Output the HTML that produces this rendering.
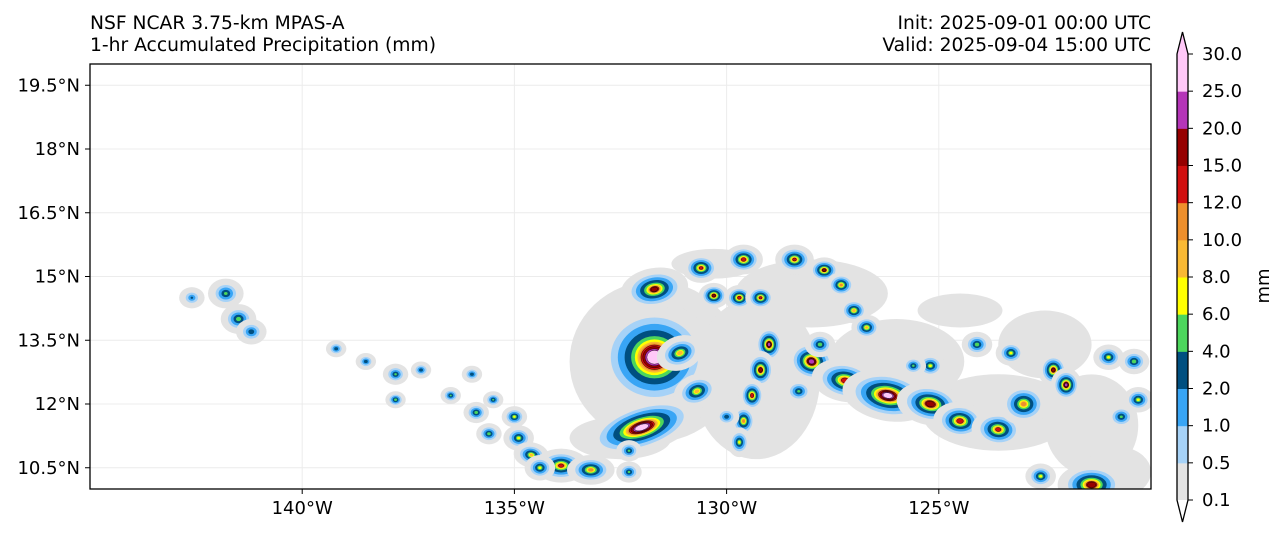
<!DOCTYPE html>
<html><head><meta charset="utf-8"><style>
html,body{margin:0;padding:0;background:#fff;}
body{width:1286px;height:537px;overflow:hidden;font-family:"Liberation Sans","DejaVu Sans",sans-serif;}
svg text{font-family:"DejaVu Sans","Liberation Sans",sans-serif;}
</style></head><body>
<svg id="chart" width="1286" height="537" xmlns="http://www.w3.org/2000/svg">
<text x="90" y="29" font-size="18.7" fill="#000">NSF NCAR 3.75-km MPAS-A</text>
<text x="90" y="51" font-size="18.7" fill="#000">1-hr Accumulated Precipitation (mm)</text>
<text x="1151" y="29" font-size="18.7" text-anchor="end" fill="#000">Init: 2025-09-01 00:00 UTC</text>
<text x="1151" y="51" font-size="18.7" text-anchor="end" fill="#000">Valid: 2025-09-04 15:00 UTC</text>
<defs><clipPath id="mapclip"><rect x="90" y="64" width="1061" height="425"/></clipPath></defs>
<g id="grid"></g>
<g id="precip" clip-path="url(#mapclip)"></g>
<rect x="90" y="64" width="1061" height="425" fill="none" stroke="#000" stroke-width="1.3"/>
<g id="axes"></g>
<g id="cbar"></g>
<text transform="translate(1269,286) rotate(-90)" font-size="18" text-anchor="middle">mm</text>
</svg>
<script>
const levels=[0.1,0.5,1,2,4,6,8,10,12,15,20,25,30];
const levelLabels=["0.1","0.5","1.0","2.0","4.0","6.0","8.0","10.0","12.0","15.0","20.0","25.0","30.0"];
const levelColors=["#e3e3e3","#a6d2f7","#38a5f5","#004f80","#4cd65c","#ffff00","#f9b934","#ee8f2c","#d00f0f","#960000","#b535b8","#ffc8f8"];
const latTicks=[10.5,12,13.5,15,16.5,18,19.5];
const lonTicks=[-140,-135,-130,-125];
// gray rain shield areas: lon, lat, half-width deg, half-height deg
const shieldLon=[-131.7,-129.3,-128.0,-126.0,-123.6,-121.4,-122.5,-124.5,-132.5,-130.3,-120.8];
const shieldLat=[13.0,12.6,14.6,13.0,11.8,11.5,13.4,14.2,11.2,15.3,10.4];
const shieldRx=[2.0,1.5,1.8,1.6,1.8,1.1,1.1,1.0,1.2,1.0,0.8];
const shieldRy=[1.9,1.9,0.8,1.0,0.9,1.2,0.8,0.4,0.5,0.35,0.6];
// convective cells: lon, lat, peak mm, extent deg, elongation, tilt deg
const cellLon=[-131.7,-132.0,-131.7,-130.6,-129.6,-128.4,-127.7,-127.3,-127.0,-126.7,-130.3,-129.7,-129.2,-131.1,-130.7,-129.0,-129.2,-129.4,-129.6,-129.7,-128.0,-127.2,-126.2,-125.2,-124.5,-123.6,-123.0,-122.3,-122.0,-121.4,-124.1,-123.3,-125.2,-121.0,-120.4,-120.3,-120.7,-141.8,-141.5,-141.2,-139.2,-138.5,-137.8,-137.2,-137.8,-136.5,-135.9,-135.5,-135.0,-135.6,-134.9,-134.6,-133.9,-133.2,-134.4,-132.3,-132.3,-130.0,-128.3,-122.6,-125.6,-127.8,-142.6,-136.0];
const cellLat=[13.1,11.45,14.7,15.2,15.4,15.4,15.15,14.8,14.2,13.8,14.55,14.5,14.5,13.2,12.3,13.4,12.8,12.2,11.6,11.1,13.0,12.55,12.2,12.0,11.6,11.4,12.0,12.8,12.45,10.1,13.4,13.2,12.9,13.1,13.0,12.1,11.7,14.6,14.0,13.7,13.3,13.0,12.7,12.8,12.1,12.2,11.8,12.1,11.7,11.3,11.2,10.8,10.55,10.45,10.5,10.4,10.9,11.7,12.3,10.3,12.9,13.4,14.5,12.7];
const cellPeak=[30,28,15,12,14,12,15,10,9,8,15,14,12,9,8,20,16,14,10,6,22,14,26,18,14,12,10,16,20,18,5,6,6,6,5,6,4,4,5,3,3,3,4,3,5,4,5,4,6,5,6,8,12,10,6,4,4,3,4,6,4,5,2,3];
const cellSize=[1.3,0.6,0.5,0.35,0.35,0.35,0.3,0.3,0.3,0.3,0.3,0.3,0.3,0.4,0.4,0.45,0.45,0.4,0.4,0.35,0.5,0.5,0.6,0.5,0.45,0.45,0.5,0.4,0.4,0.5,0.3,0.3,0.3,0.3,0.3,0.3,0.3,0.35,0.35,0.3,0.2,0.2,0.25,0.2,0.2,0.2,0.25,0.2,0.25,0.25,0.3,0.3,0.4,0.35,0.3,0.25,0.25,0.25,0.3,0.3,0.25,0.3,0.25,0.2];
const cellStretch=[1.1,2.4,1.6,1.3,1.3,1.3,1.3,1.2,1.2,1.2,1.2,1.2,1.2,1.4,1.4,0.8,0.8,0.8,0.8,0.8,1.2,1.6,1.8,1.6,1.4,1.4,1.2,0.9,0.9,1.6,1.2,1.2,1.2,1.2,1.2,1.2,1.2,1.2,1.2,1.2,1.2,1.2,1.2,1.2,1.2,1.2,1.2,1.2,1.2,1.2,1.2,1.4,1.6,1.6,1.2,1.2,1.2,1.2,1.2,1.2,1.2,1.2,1.2,1.2];
const cellTilt=[0,-18,-10,0,0,0,0,0,0,0,0,0,0,-20,-20,0,0,0,0,0,15,10,10,10,5,5,0,0,0,0,0,0,0,0,0,0,0,0,0,0,0,0,0,0,0,0,0,0,0,0,0,10,0,0,0,0,0,0,0,0,0,0,0,0];

const NS="http://www.w3.org/2000/svg";
const X0=90,X1=1151,Y0=64,Y1=489,LON0=-145,LON1=-120,LAT0=10,LAT1=20;
function xs(lon){return X0+(lon-LON0)/(LON1-LON0)*(X1-X0);}
function ys(lat){return Y1-(lat-LAT0)/(LAT1-LAT0)*(Y1-Y0);}
const pxDeg=(X1-X0)/(LON1-LON0);
function mk(tag,attrs,parent){const e=document.createElementNS(NS,tag);for(const k in attrs)e.setAttribute(k,attrs[k]);parent.appendChild(e);return e;}

const grid=document.getElementById('grid');
latTicks.forEach(t=>{const l=mk('line',{x1:X0,x2:X1,y1:ys(t),y2:ys(t),stroke:'#ececec','stroke-width':1},grid);

});
lonTicks.forEach(t=>{const l=mk('line',{x1:xs(t),x2:xs(t),y1:Y0,y2:Y1,stroke:'#ececec','stroke-width':1},grid);

});

const precip=document.getElementById('precip');
shieldLon.forEach((lon,i)=>{const e=mk('ellipse',{cx:xs(lon),cy:ys(shieldLat[i]),rx:shieldRx[i]*pxDeg,ry:shieldRy[i]*pxDeg,fill:levelColors[0]},precip);

});
cellLon.forEach((lon,i)=>{
  const p=cellPeak[i],s=cellSize[i],st=cellStretch[i];
  const cx=xs(lon),cy=ys(cellLat[i]);
  const g=mk('g',{transform:`rotate(${cellTilt[i]} ${cx} ${cy})`},precip);
  
  
  const lp=Math.log(p/0.1);
  for(let k=0;k<levelColors.length;k++){
    if(levels[k]>p)break;
    const r=Math.log(levels[k]/0.1)/lp;
    const f=Math.pow(1-r*0.85,1.2);
    mk('ellipse',{cx:cx,cy:cy,rx:s*f*pxDeg*st,ry:s*f*pxDeg,fill:levelColors[k],stroke:k>=8?'#000':'none','stroke-width':0.4},g);
  }
});

const axes=document.getElementById('axes');
latTicks.forEach(t=>{const y=ys(t);
  const tk=mk('line',{x1:X0-5,x2:X0,y1:y,y2:y,stroke:'#000'},axes);
  
  
  const tx=mk('text',{x:X0-10,y:y+6,'font-size':18,'text-anchor':'end'},axes);
  tx.textContent=(Number.isInteger(t)?t:t.toFixed(1))+'°N';
  
  });
lonTicks.forEach(t=>{const x=xs(t);
  const tk=mk('line',{x1:x,x2:x,y1:Y1,y2:Y1+5,stroke:'#000'},axes);
  
  
  const tx=mk('text',{x:x,y:Y1+25,'font-size':18,'text-anchor':'middle'},axes);
  tx.textContent=(-t)+'°W';
  
  });

const cb=document.getElementById('cbar');
const CX0=1177,CX1=1188,CT=54,CB=500,step=(CB-CT)/(levels.length-1);
function cyPos(i){return CB-i*step;}
levelColors.forEach((c,i)=>{const r=mk('rect',{x:CX0,y:cyPos(i+1),width:CX1-CX0,height:step+0.5,fill:c},cb);

});
const cbTop=mk('polygon',{points:`${CX0},${CT} ${CX1},${CT} ${(CX0+CX1)/2},${CT-22}`,fill:'#ffc8f8'},cb);


const cbBot=mk('polygon',{points:`${CX0},${CB} ${CX1},${CB} ${(CX0+CX1)/2},${CB+22}`,fill:'#fff'},cb);


mk('polygon',{points:`${CX0},${CT} ${(CX0+CX1)/2},${CT-22} ${CX1},${CT} ${CX1},${CB} ${(CX0+CX1)/2},${CB+22} ${CX0},${CB}`,fill:'none',stroke:'#000','stroke-width':1.3},cb);
levelLabels.forEach((lab,i)=>{const y=cyPos(i);
  mk('line',{x1:CX1,x2:CX1+5,y1:y,y2:y,stroke:'#000'},cb);
  const t=mk('text',{x:1202,y:y+6,'font-size':18},cb);
  t.textContent=lab;
  
  });
</script>
</body></html>
